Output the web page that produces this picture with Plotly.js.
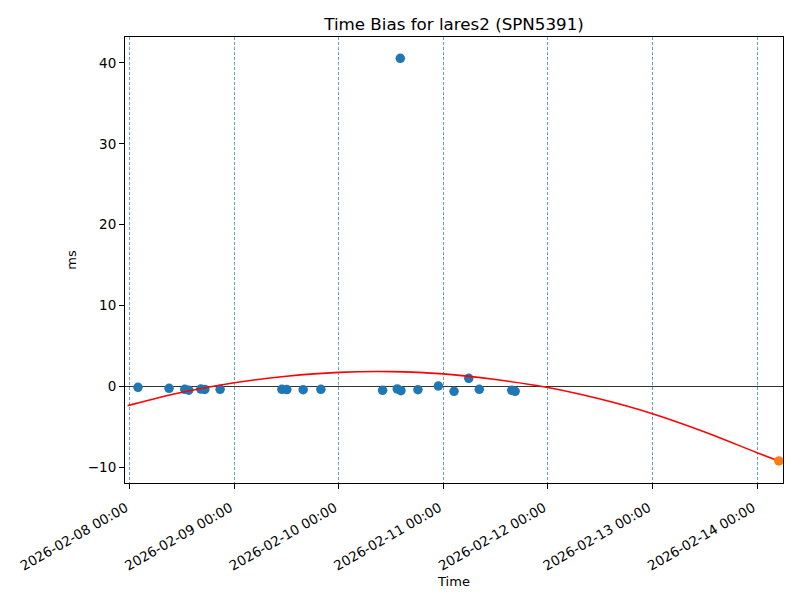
<!DOCTYPE html>
<html>
<head>
<meta charset="utf-8">
<script src="https://cdn.plot.ly/plotly-3.0.1.min.js"></script>
<style>html,body{margin:0;padding:0;background:#fff;}#chart{width:800px;height:600px;}</style>
</head>
<body>
<div id="chart"></div>
<script>
// Observed time bias points
const obsTimes = [
  "2026-02-08 01:54", "2026-02-08 09:02", "2026-02-08 12:38", "2026-02-08 13:33",
  "2026-02-08 16:19", "2026-02-08 17:14", "2026-02-08 20:45", "2026-02-09 10:56",
  "2026-02-09 12:04", "2026-02-09 15:49", "2026-02-09 19:53", "2026-02-10 10:03",
  "2026-02-10 13:25", "2026-02-10 14:07", "2026-02-10 14:16", "2026-02-10 18:10",
  "2026-02-10 22:51", "2026-02-11 02:27", "2026-02-11 05:50", "2026-02-11 08:15",
  "2026-02-11 15:42", "2026-02-11 16:28"
];
const obsValues = [
  -0.10, -0.22, -0.35, -0.45,
  -0.32, -0.36, -0.35, -0.35,
  -0.38, -0.40, -0.35, -0.47,
  -0.30, 40.57, -0.52, -0.40,
  0.06, -0.60, 1.01, -0.35,
  -0.47, -0.60
];
// Fitted curve
const fitTimes = [
  "2026-02-07 23:31", "2026-02-08 00:00", "2026-02-08 12:00", "2026-02-09 00:00",
  "2026-02-09 12:00", "2026-02-10 00:00", "2026-02-10 12:00", "2026-02-11 00:00",
  "2026-02-11 12:00", "2026-02-12 00:00", "2026-02-12 12:00", "2026-02-13 00:00",
  "2026-02-13 12:00", "2026-02-14 00:00", "2026-02-14 05:01"
];
const fitValues = [
  -2.37, -2.30, -0.72, 0.46,
  1.27, 1.75, 1.84, 1.56,
  0.86, -0.12, -1.55, -3.36,
  -5.62, -8.18, -9.21
];
// Predicted point
const predTimes = ["2026-02-14 05:01"];
const predValues = [-9.2];

const tickVals = ["2026-02-08", "2026-02-09", "2026-02-10", "2026-02-11", "2026-02-12", "2026-02-13", "2026-02-14"];

const font = {family: "DejaVu Sans, sans-serif", size: 13, color: "#000"};
const tickFont = {family: "DejaVu Sans, sans-serif", size: 13.5, color: "#000"};

const traces = [
  {x: obsTimes, y: obsValues, type: "scatter", mode: "markers",
   marker: {color: "#1f77b4", size: 9.5}, showlegend: false, hoverinfo: "x+y"},
  {x: fitTimes, y: fitValues, type: "scatter", mode: "lines",
   line: {color: "red", width: 1.6, shape: "spline"}, showlegend: false},
  {x: predTimes, y: predValues, type: "scatter", mode: "markers",
   marker: {color: "#ff7f0e", size: 9.5}, showlegend: false}
];

const layout = {
  width: 800, height: 600,
  margin: {l: 125, r: 17, t: 37, b: 117, pad: 0},
  paper_bgcolor: "#fff", plot_bgcolor: "#fff",
  font: font,
  title: {text: "Time Bias for lares2 (SPN5391)", x: 0.5, xanchor: "center", xref: "paper",
          y: 1, yref: "paper", yanchor: "bottom", pad: {b: 7},
          font: {family: "DejaVu Sans, sans-serif", size: 16.7, color: "#000"}},
  xaxis: {
    type: "date",
    range: ["2026-02-07 22:55", "2026-02-14 05:58"],
    tickvals: tickVals,
    tickformat: "%Y-%m-%d %H:%M",
    tickangle: -30,
    ticks: "outside", ticklen: 5, tickwidth: 1, tickcolor: "#000",
    ticklabelstandoff: 6, ticklabelshift: -4,
    showgrid: true, gridcolor: "#1f77b4", griddash: "3px,2px", gridwidth: 0.7,
    showline: true, linecolor: "#000", linewidth: 1, mirror: true,
    zeroline: false,
    title: {text: "Time", font: font, standoff: 0},
    tickfont: tickFont
  },
  yaxis: {
    range: [-11.93, 43.2],
    tickvals: [-10, 0, 10, 20, 30, 40],
    ticks: "outside", ticklen: 5, tickwidth: 1, tickcolor: "#000",
    showgrid: false,
    zeroline: true, zerolinecolor: "#000", zerolinewidth: 0.8,
    showline: true, linecolor: "#000", linewidth: 1, mirror: true,
    title: {text: "ms", font: font, standoff: 8},
    tickfont: tickFont
  }
};

Plotly.newPlot("chart", traces, layout, {displayModeBar: false, staticPlot: true});
</script>
</body>
</html>
